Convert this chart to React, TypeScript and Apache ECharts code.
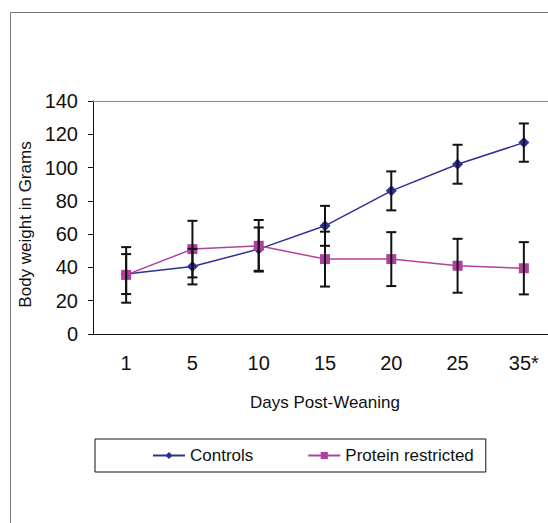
import React, { useEffect, useRef } from "react";
import * as echarts from "echarts";

const days = ["1", "5", "10", "15", "20", "25", "35*"];
const controls = [36, 40.5, 51, 65, 86, 102, 115];
const controlsErr = [12, 10.7, 13, 12, 11.7, 11.7, 11.5];
const protein = [35.5, 51, 53, 45, 45, 41, 39.5];
const proteinErr = [16.7, 17, 15.5, 16.5, 16.2, 16.2, 15.7];
const yTicks = { min: 0, max: 140, interval: 20 };

const BLUE = "#2f2f95";
const PINK = "#b0429e";
const FONT = "'Liberation Sans', Arial, sans-serif";

function errData(means: number[], errs: number[]) {
  return means.map((m, i) => [i, m - errs[i], m + errs[i]]);
}

function renderErr(params: any, api: any) {
  const i = api.value(0);
  const lo = api.coord([i, api.value(1)]);
  const hi = api.coord([i, api.value(2)]);
  const w = 5;
  const style = { stroke: "#111", lineWidth: 2 };
  return {
    type: "group",
    children: [
      { type: "line", shape: { x1: lo[0], y1: lo[1], x2: hi[0], y2: hi[1] }, style },
      { type: "line", shape: { x1: lo[0] - w, y1: lo[1], x2: lo[0] + w, y2: lo[1] }, style },
      { type: "line", shape: { x1: hi[0] - w, y1: hi[1], x2: hi[0] + w, y2: hi[1] }, style },
    ],
  };
}

export default function App() {
  const ref = useRef<HTMLDivElement>(null);
  useEffect(() => {
    if (!ref.current) return;
    const chart = echarts.init(ref.current, undefined, { renderer: "svg" });
    chart.setOption({
      animation: false,
      backgroundColor: "#fff",
      textStyle: { fontFamily: FONT },
      graphic: [
        {
          type: "rect",
          shape: { x: 10.5, y: 12.5, width: 700, height: 700 },
          style: { fill: "none", stroke: "#777", lineWidth: 1 },
          silent: true,
        },
      ],
      grid: { left: 93, top: 101, right: 570 - 557, bottom: 523 - 334 },
      legend: {
        left: 95,
        top: 439,
        orient: "horizontal",
        padding: [8, 12, 8, 57],
        itemGap: 54,
        itemWidth: 32,
        itemHeight: 9,
        borderColor: "#111",
        borderWidth: 1,
        textStyle: { fontFamily: FONT, fontSize: 17, color: "#111" },
        data: ["Controls", "Protein restricted"],
      },
      xAxis: [
        {
          type: "category",
          data: days,
          boundaryGap: true,
          axisLine: { lineStyle: { color: "#111", width: 1 } },
          axisTick: { length: 5, lineStyle: { color: "#111" } },
          axisLabel: { fontFamily: FONT, fontSize: 20, color: "#111", margin: 19 },
          name: "Days Post-Weaning",
          nameLocation: "middle",
          nameGap: 60,
          nameTextStyle: { fontFamily: FONT, fontSize: 17, color: "#111" },
          splitLine: { show: false },
        },
        {
          type: "category",
          data: days,
          position: "top",
          axisLine: { lineStyle: { color: "#888", width: 1 } },
          axisTick: { show: false },
          axisLabel: { show: false },
          splitLine: { show: false },
        },
      ],
      yAxis: {
        type: "value",
        min: yTicks.min,
        max: yTicks.max,
        interval: yTicks.interval,
        axisLine: { show: true, lineStyle: { color: "#111", width: 1 } },
        axisTick: { show: true, length: 5, lineStyle: { color: "#111" } },
        axisLabel: { fontFamily: FONT, fontSize: 20, color: "#111", margin: 15 },
        splitLine: { show: false },
        name: "Body weight in Grams",
        nameLocation: "middle",
        nameGap: 58,
        nameTextStyle: { fontFamily: FONT, fontSize: 17, color: "#111", padding: [0, 0, 0, -14] },
      },
      series: [
        {
          name: "Controls",
          type: "line",
          data: controls,
          symbol: "diamond",
          symbolSize: 11,
          lineStyle: { color: BLUE, width: 1.5 },
          itemStyle: { color: BLUE },
          z: 2,
        },
        {
          name: "Protein restricted",
          type: "line",
          data: protein,
          symbol: "rect",
          symbolSize: 10,
          lineStyle: { color: PINK, width: 1.5 },
          itemStyle: { color: PINK },
          z: 2,
        },
        {
          type: "custom",
          renderItem: renderErr,
          data: errData(controls, controlsErr),
          encode: { x: 0, y: [1, 2] },
          z: 5,
          silent: true,
        },
        {
          type: "custom",
          renderItem: renderErr,
          data: errData(protein, proteinErr),
          encode: { x: 0, y: [1, 2] },
          z: 5,
          silent: true,
        },
      ],
    });
    return () => chart.dispose();
  }, []);
  return (
    <div
      style={{
        position: "fixed",
        left: 0,
        top: 0,
        width: 548,
        height: 523,
        overflow: "hidden",
        background: "#fff",
      }}
    >
      <div ref={ref} style={{ width: 570, height: 523 }} />
    </div>
  );
}
